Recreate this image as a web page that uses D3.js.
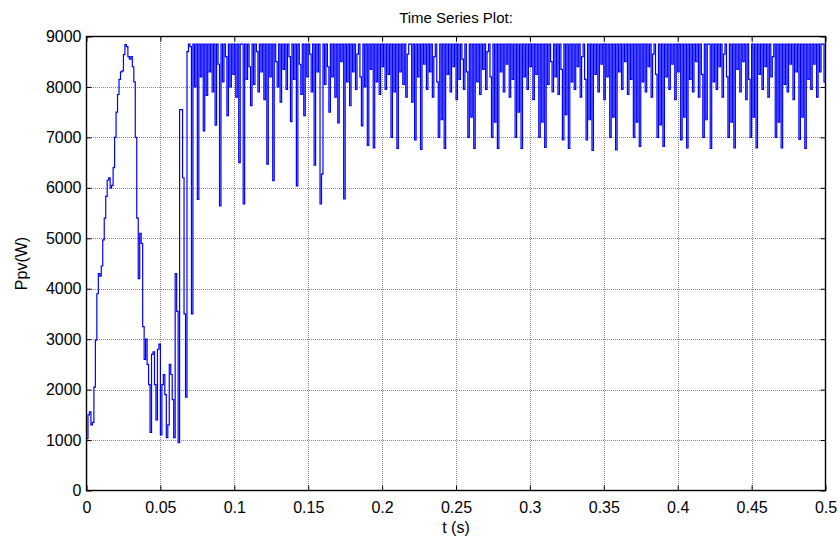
<!DOCTYPE html>
<html>
<head>
<meta charset="utf-8">
<script src="https://cdn.jsdelivr.net/npm/d3@7"></script>
<style>
  html, body { margin: 0; padding: 0; background: #fff; }
  svg { display: block; font-family: "Liberation Sans", Arial, sans-serif; }
</style>
</head>
<body>
<svg id="chart" width="840" height="542"></svg>
<script>
// ---- data ----
const titleText = "Time Series Plot:";
const xLabel = "t (s)";
const yLabel = "Ppv(W)";
const xTicks = [0, 0.05, 0.1, 0.15, 0.2, 0.25, 0.3, 0.35, 0.4, 0.45, 0.5];
const xTickLabels = ["0", "0.05", "0.1", "0.15", "0.2", "0.25", "0.3", "0.35", "0.4", "0.45", "0.5"];
const yTicks = [0, 1000, 2000, 3000, 4000, 5000, 6000, 7000, 8000, 9000];
const sampleTime = 0.001; // s, fixed-step solver output
// Ppv (W), one value per sample, t = 0 ... 0.5 s
const ppv = [
  0, 1030, 1500, 1560, 1300, 1350, 2050, 2980, 3900, 4300,
  4250, 4450, 4970, 5400, 5830, 6150, 6200, 6000, 6050, 6400,
  7000, 7500, 7850, 8150, 8300, 8320, 8640, 8840, 8800, 8600,
  8550, 8600, 8400, 8100, 7000, 5400, 4200, 5100, 4900, 3250,
  2600, 3000, 2500, 2100, 1150, 2700, 2750, 2100, 1400, 2800,
  2900, 1100, 2100, 2300, 1900, 1050, 1300, 2500, 2300, 1800,
  1050, 4300, 3550, 950, 7550, 7550, 6200, 3500, 1850, 8700,
  8850, 8800, 3500, 8850, 8000, 8850, 5770, 8850, 8200, 8850,
  7130, 8850, 7830, 8850, 8300, 8850, 7900, 8850, 7245, 8850,
  8450, 5640, 8850, 8100, 8850, 8600, 7430, 8850, 8000, 8850,
  8250, 8850, 7800, 8850, 6500, 8850, 8850, 5680, 8850, 8150,
  8850, 8400, 7630, 8850, 8050, 8850, 8700, 7900, 8850, 8300,
  8850, 7750, 8850, 6470, 8850, 8200, 8850, 6140, 8850, 8500,
  8000, 8850, 7700, 8850, 8350, 8850, 7950, 8850, 8600, 7310,
  8850, 8150, 8850, 6040, 8850, 8450, 7850, 8850, 7430, 8850,
  8200, 8850, 8650, 7900, 8850, 6450, 8850, 8300, 8850, 5680,
  6270, 8850, 8050, 8850, 8400, 7500, 8850, 8200, 8850, 7800,
  8850, 7285, 8850, 8500, 8850, 5780, 8850, 8100, 8850, 7630,
  8850, 8300, 8850, 7950, 8650, 8850, 8200, 7230, 8850, 8000,
  8850, 6840, 8850, 8350, 8850, 6790, 8850, 8100, 8850, 7850,
  8850, 8400, 8850, 7950, 8850, 8250, 8850, 7000, 8850, 7900,
  8850, 6780, 8850, 8300, 8850, 8050, 8850, 7800, 8650, 8850,
  8850, 7700, 8850, 6950, 8850, 8200, 8850, 6760, 8850, 8450,
  8850, 7950, 8850, 8300, 8850, 7800, 8600, 8850, 8100, 7000,
  8850, 7350, 8850, 6780, 8850, 8250, 8850, 7900, 8850, 8400,
  8850, 7750, 8850, 8150, 8850, 8550, 7950, 8850, 8300, 7000,
  8850, 7400, 8850, 6780, 8850, 8100, 8850, 7850, 8850, 8350,
  8850, 7950, 8700, 8850, 8200, 7000, 8850, 7300, 8850, 6780,
  8850, 8300, 8850, 7900, 8850, 8450, 8850, 7800, 8850, 8150,
  8850, 7000, 8850, 7500, 8850, 6780, 8850, 8200, 8850, 7950,
  8850, 8400, 8850, 7750, 8850, 8250, 8850, 7000, 8850, 7300,
  8850, 6800, 8850, 8050, 8850, 8500, 7900, 8850, 8200, 8850,
  7850, 8850, 8350, 6950, 8850, 7450, 8850, 6780, 8850, 8100,
  8850, 7950, 8850, 8400, 8850, 7800, 8600, 8850, 8150, 6950,
  8850, 7350, 8850, 6740, 8850, 8250, 8850, 7900, 8850, 8450,
  8850, 7750, 8850, 8200, 8850, 7000, 8850, 7400, 8850, 6750,
  8850, 8300, 8850, 7950, 8850, 8500, 8850, 7850, 8850, 8150,
  8850, 7000, 8850, 7300, 8850, 6820, 8850, 8100, 8850, 7900,
  8850, 8400, 8850, 7800, 8650, 8850, 8250, 7000, 8850, 7250,
  8850, 6820, 8850, 8200, 8850, 7950, 8850, 8450, 8850, 7750,
  8850, 8300, 8850, 6950, 8850, 7400, 8850, 6790, 8850, 8150,
  8850, 7900, 8850, 8500, 8850, 7800, 8850, 8250, 7000, 8850,
  7350, 8850, 8850, 6780, 8850, 8100, 8850, 7950, 8850, 8400,
  8850, 7800, 8650, 8850, 8200, 7000, 8850, 7300, 8850, 6790,
  8850, 8350, 8850, 7900, 8850, 8500, 8850, 7750, 8850, 8150,
  7000, 8850, 7400, 8850, 6790, 8850, 8250, 8850, 7950, 8850,
  8400, 8850, 7800, 8850, 8200, 8600, 8850, 7000, 8850, 7300,
  8850, 6790, 8850, 8050, 8850, 7900, 8850, 8450, 8850, 7750,
  8850, 8300, 8850, 6960, 8850, 7400, 8850, 6780, 8850, 8150,
  8850, 7950, 8850, 8450, 8850, 7800, 8850, 8300, 8850, 8850, 8100
];

// ---- layout ----
const W = 840, H = 542;
const L = 86.5, R = 825.5, T = 36.5, B = 490.5;
const fontSize = 16;

const svg = d3.select("#chart");
const x = d3.scaleLinear().domain([0, 0.5]).range([L, R]);
const y = d3.scaleLinear().domain([0, 9000]).range([B, T]);

const data = ppv.map((v, i) => ({ t: i * sampleTime, v }));

svg.append("defs").append("clipPath").attr("id", "clip")
  .append("rect").attr("x", L).attr("y", T).attr("width", R - L).attr("height", B - T);

// grid
const grid = svg.append("g").attr("stroke", "#8a8a8a").attr("stroke-width", 1)
  .attr("stroke-dasharray", "1,1").attr("shape-rendering", "crispEdges");
grid.selectAll("line.vx").data(xTicks.slice(1, -1)).join("line")
  .attr("x1", d => Math.round(x(d)) + 0.5).attr("x2", d => Math.round(x(d)) + 0.5)
  .attr("y1", T).attr("y2", B);
grid.selectAll("line.hy").data(yTicks.slice(1, -1)).join("line")
  .attr("x1", L).attr("x2", R)
  .attr("y1", d => Math.round(y(d)) + 0.5).attr("y2", d => Math.round(y(d)) + 0.5);

// series
const line = d3.line().x(d => x(d.t)).y(d => y(d.v)).curve(d3.curveStepBefore);
svg.append("path").datum(data)
  .attr("clip-path", "url(#clip)")
  .attr("fill", "none").attr("stroke", "#0000ff").attr("stroke-width", 1.2)
  .attr("d", line);

// axes
const fmtX = (d, i) => xTickLabels[i];
const xb = svg.append("g").attr("transform", `translate(0,${B})`)
  .call(d3.axisBottom(x).tickValues(xTicks).tickFormat(fmtX).tickSizeInner(-5).tickSizeOuter(0).tickPadding(11.5));
const xt = svg.append("g").attr("transform", `translate(0,${T})`)
  .call(d3.axisTop(x).tickValues(xTicks).tickFormat("").tickSizeInner(-5).tickSizeOuter(0));
const yl = svg.append("g").attr("transform", `translate(${L},0)`)
  .call(d3.axisLeft(y).tickValues(yTicks).tickFormat(d3.format("d")).tickSizeInner(-5).tickSizeOuter(0).tickPadding(5));
const yr = svg.append("g").attr("transform", `translate(${R},0)`)
  .call(d3.axisRight(y).tickValues(yTicks).tickFormat("").tickSizeInner(-5).tickSizeOuter(0));

[xb, xt, yl, yr].forEach(g => {
  g.select(".domain").remove();
  g.selectAll(".tick line").attr("stroke", "#000").attr("stroke-width", 1);
  g.selectAll("text").attr("fill", "#000").style("font-size", fontSize + "px")
    .style("font-family", '"Liberation Sans", Arial, sans-serif');
});

// box
svg.append("rect").attr("x", L).attr("y", T).attr("width", R - L).attr("height", B - T)
  .attr("fill", "none").attr("stroke", "#000").attr("stroke-width", 1.4);

// labels
svg.append("text").attr("x", (L + R) / 2).attr("y", 23).attr("text-anchor", "middle")
  .style("font-size", "15px").attr("fill", "#000").text(titleText);
svg.append("text").attr("x", (L + R) / 2).attr("y", 533).attr("text-anchor", "middle")
  .style("font-size", fontSize + "px").attr("fill", "#000").text(xLabel);
svg.append("text").attr("transform", `translate(27,${(T + B) / 2}) rotate(-90)`)
  .attr("text-anchor", "middle")
  .style("font-size", fontSize + "px").attr("fill", "#000").text(yLabel);
</script>
</body>
</html>
